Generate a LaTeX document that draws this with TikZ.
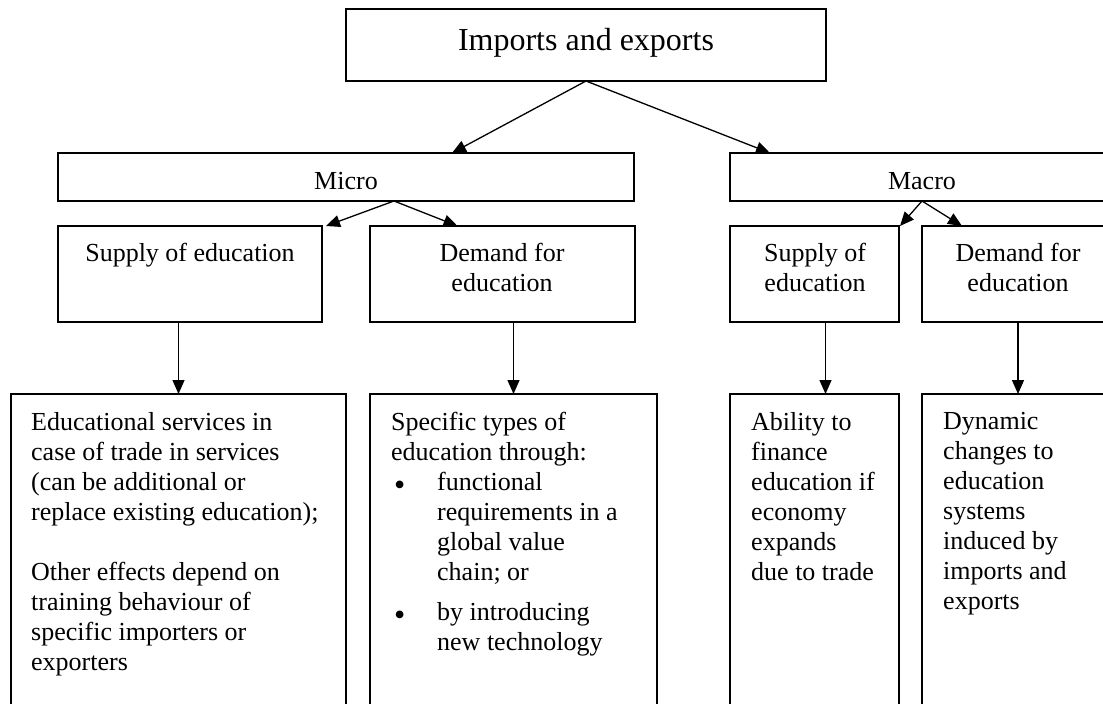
\documentclass[tikz,border=0pt]{standalone}
\usepackage{fontspec}
\setmainfont{Liberation Serif}
\usetikzlibrary{arrows.meta}
\begin{document}
\begin{tikzpicture}[x=1pt,y=-1pt,
  box/.style={draw, line width=1.2pt, inner sep=0pt, outer sep=0pt, anchor=north west},
  arr/.style={line width=1.3pt, -{Triangle[length=14pt,width=12pt]}},
  lbl/.style={font=\fontsize{26}{30}\selectfont, inner sep=0pt},
  para/.style={lbl, align=left, anchor=north west},
  mid/.style={lbl, align=center, anchor=north},
  bul/.style={font=\fontsize{32}{30}\selectfont, inner sep=0pt, anchor=base west},
]
\useasboundingbox (0,0) rectangle (1103,704);
\begin{scope}
\clip (0,0) rectangle (1103,704);
% boxes
\node[box, minimum width=480pt, minimum height=72pt] (top) at (346,9) {};
\node[box, minimum width=576pt, minimum height=48pt] (micro) at (58,153) {};
\node[box, minimum width=384pt, minimum height=48pt] (macro) at (730,153) {};
\node[box, minimum width=264pt, minimum height=96pt] (sup1) at (58,226) {};
\node[box, minimum width=265pt, minimum height=96pt] (dem1) at (370,226) {};
\node[box, minimum width=169pt, minimum height=96pt] (sup2) at (730,226) {};
\node[box, minimum width=192pt, minimum height=96pt] (dem2) at (922,226) {};
\node[box, minimum width=335pt, minimum height=336pt] (bl) at (11,394) {};
\node[box, minimum width=287pt, minimum height=336pt] (bd) at (370,394) {};
\node[box, minimum width=169pt, minimum height=336pt] (bs) at (730,394) {};
\node[box, minimum width=192pt, minimum height=336pt] (bm) at (922,394) {};
% texts
\node[lbl, font=\fontsize{32}{36}\selectfont, anchor=base] (ttop) at (586,50) {Imports and exports};
\node[lbl, anchor=base] (tmicro) at (346,189) {Micro};
\node[lbl, anchor=base] (tmacro) at (922,189) {Macro};
\node[lbl, anchor=base] (tsup1) at (190,261) {Supply of education};
\node[mid] (tdem1) at (502,243) {Demand for\\education};
\node[mid] (tsup2) at (815,243) {Supply of\\education};
\node[mid] (tdem2) at (1018,243) {Demand for\\education};
\node[para] (tbl1) at (31,412) {Educational services in\\case of trade in services\\(can be additional or\\replace existing education);};
\node[para] (tbl2) at (31,562) {Other effects depend on\\training behaviour of\\specific importers or\\exporters};
\node[para] (tbd1) at (391,412) {Specific types of\\education through:};
\node[bul] (b1) at (394,495) {•};
\node[para] (tbd2) at (437,472) {functional\\requirements in a\\global value\\chain; or};
\node[bul] (b2) at (394,625) {•};
\node[para] (tbd3) at (437,602) {by introducing\\new technology};
\node[para] (tbs) at (751,412) {Ability to\\finance\\education if\\economy\\expands\\due to trade};
\node[para] (tbm) at (943,412) {Dynamic\\changes to\\education\\systems\\induced by\\imports and\\exports};
% connectors
\coordinate (mo) at ([xshift=48pt]micro.south);
\coordinate (a3) at ([xshift=11pt]bs.north);
\draw[arr] (top.south) -- ([xshift=106pt]micro.north);
\draw[arr] (top.south) -- ([xshift=-152pt]macro.north);
\draw[arr] (mo) -- ([xshift=4pt]sup1.north east);
\draw[arr] (mo) -- ([xshift=-45pt]dem1.north);
\draw[arr] (macro.south) -- ([xshift=1pt]sup2.north east);
\draw[arr] (macro.south) -- ([xshift=-56pt]dem2.north);
\draw[arr] (bl.north |- sup1.south) -- (bl.north);
\draw[arr] (bd.north |- dem1.south) -- (bd.north);
\draw[arr] (a3 |- sup2.south) -- (a3);
\draw[arr] (bm.north |- dem2.south) -- (bm.north);
\end{scope}
\end{tikzpicture}
\end{document}
